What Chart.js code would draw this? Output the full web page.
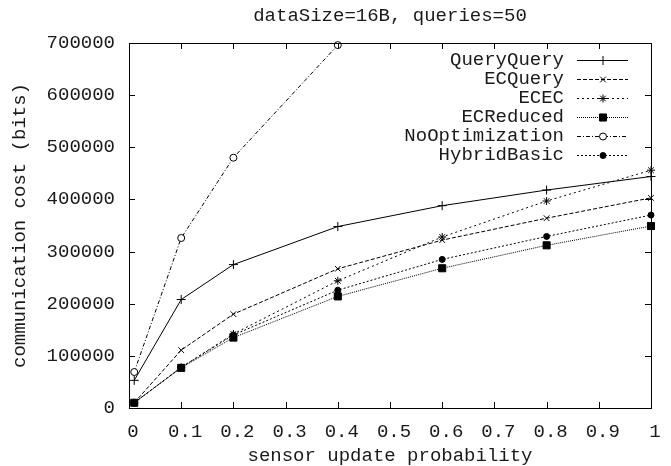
<!DOCTYPE html>
<html>
<head>
<meta charset="utf-8">
<script src="https://cdn.jsdelivr.net/npm/chart.js@4/dist/chart.umd.min.js"></script>
<style>
  html, body { margin: 0; padding: 0; background: #fff; }
  #wrap { width: 671px; height: 466px; }
</style>
</head>
<body>
<div id="wrap"><canvas id="chart"></canvas></div>
<script>
// values
const probs = [0.01, 0.1, 0.2, 0.4, 0.6, 0.8, 1];
const queryQuery = [53000, 208000, 275000, 348000, 388000, 418000, 444000];
const ecQuery = [10000, 111000, 180000, 267000, 322000, 364000, 403000];
const ecEc = [10000, 78000, 142000, 244000, 328000, 397000, 456000];
const ecReduced = [10000, 77000, 135000, 214000, 268000, 312000, 349000];
const noOptimization = [69000, 326000, 480000, 696000];
const hybridBasic = [10000, 78000, 140000, 226000, 285000, 329000, 370000];

const xTicks = [0, 0.1, 0.2, 0.3, 0.4, 0.5, 0.6, 0.7, 0.8, 0.9, 1];
const yTicks = [0, 100000, 200000, 300000, 400000, 500000, 600000, 700000];

const FONT = "'Liberation Mono', 'DejaVu Sans Mono', monospace";
const FSIZE = 19;
const INK = '#1a1a1a';

function pts(vals) {
    return vals.map((v, i) => ({ x: probs[i], y: v }));
}

const series = [
    { label: 'QueryQuery', data: queryQuery, dash: [], style: 'cross', r: 4.5, fill: '#000' },
    { label: 'ECQuery', data: ecQuery, dash: [4, 2], style: 'crossRot', r: 4, fill: '#000' },
    { label: 'ECEC', data: ecEc, dash: [2, 3], style: 'star', r: 4, fill: '#000' },
    { label: 'ECReduced', data: ecReduced, dash: [1, 1], style: 'rect', r: 5, fill: '#000' },
    { label: 'NoOptimization', data: noOptimization, dash: [4, 2, 1, 2], style: 'circle', r: 3.5, fill: '#fff' },
    { label: 'HybridBasic', data: hybridBasic, dash: [2, 2], style: 'circle', r: 3, fill: '#000' }
];

// gnuplot style frame with inward ticks on all four sides
const frame = {
    id: 'frame',
    afterDatasetsDraw(chart) {
        const { ctx, chartArea: a, scales: { x, y } } = chart;
        ctx.save();
        ctx.strokeStyle = '#000';
        ctx.lineWidth = 1;
        ctx.setLineDash([]);
        ctx.beginPath();
        xTicks.forEach(v => {
            const px = Math.round(x.getPixelForValue(v)) + 0.5;
            ctx.moveTo(px, a.bottom); ctx.lineTo(px, a.bottom - 6);
            ctx.moveTo(px, a.top); ctx.lineTo(px, a.top + 6);
        });
        yTicks.forEach(v => {
            const py = Math.round(y.getPixelForValue(v)) + 0.5;
            ctx.moveTo(a.left, py); ctx.lineTo(a.left + 6, py);
            ctx.moveTo(a.right, py); ctx.lineTo(a.right - 6, py);
        });
        ctx.stroke();
        ctx.strokeRect(Math.round(a.left) + 0.5, Math.round(a.top) + 0.5,
            Math.round(a.right - a.left), Math.round(a.bottom - a.top));

        // title
        ctx.fillStyle = INK;
        ctx.font = FSIZE + 'px ' + FONT;
        ctx.textAlign = 'center';
        ctx.textBaseline = 'middle';
        ctx.fillText('dataSize=16B, queries=50', (a.left + a.right) / 2, 16);

        // legend, text on the left of the sample
        ctx.textAlign = 'right';
        chart.data.datasets.forEach((ds, i) => {
            const ly = 60 + i * 19;
            ctx.fillStyle = INK;
            ctx.fillText(ds.label, 564, ly);
            ctx.beginPath();
            ctx.setLineDash(ds.borderDash);
            ctx.moveTo(577, ly + 0.5);
            ctx.lineTo(628, ly + 0.5);
            ctx.stroke();
            ctx.setLineDash([]);
            ctx.fillStyle = ds.pointBackgroundColor;
            Chart.helpers.drawPoint(ctx, {
                pointStyle: ds.pointStyle, radius: ds.pointRadius,
                borderWidth: 1, rotation: 0
            }, 603, ly + 0.5);
        });
        ctx.restore();
    }
};

new Chart(document.getElementById('chart'), {
    type: 'line',
    data: {
        datasets: series.map(s => ({
            label: s.label,
            data: pts(s.data),
            borderColor: '#000',
            borderWidth: 1,
            borderDash: s.dash,
            pointStyle: s.style,
            pointRadius: s.r,
            pointHoverRadius: s.r,
            pointBorderColor: '#000',
            pointBackgroundColor: s.fill,
            pointBorderWidth: 1,
            tension: 0,
            fill: false,
            clip: false
        }))
    },
    options: {
        responsive: true,
        maintainAspectRatio: false,
        animation: false,
        layout: { padding: { top: 43, right: 20, left: 0, bottom: 0 } },
        plugins: {
            legend: { display: false },
            title: { display: false },
            tooltip: { enabled: false }
        },
        scales: {
            x: {
                type: 'linear',
                min: 0,
                max: 1,
                afterBuildTicks: s => { s.ticks = xTicks.map(v => ({ value: v })); },
                afterFit: s => { s.height = 58; },
                grid: { display: false, drawTicks: false },
                border: { display: false },
                ticks: {
                    color: INK,
                    font: { family: FONT, size: FSIZE },
                    padding: 13,
                    labelOffset: 4,
                    maxRotation: 0,
                    autoSkip: false,
                    callback: v => String(Math.round(v * 10) / 10)
                },
                title: {
                    display: true,
                    text: 'sensor update probability',
                    color: INK,
                    font: { family: FONT, size: FSIZE },
                    padding: { top: 0, bottom: -1 }
                }
            },
            y: {
                min: 0,
                max: 700000,
                afterBuildTicks: s => { s.ticks = yTicks.map(v => ({ value: v })); },
                afterFit: s => { s.width = 129; },
                grid: { display: false, drawTicks: false },
                border: { display: false },
                ticks: {
                    color: INK,
                    font: { family: FONT, size: FSIZE },
                    padding: 14,
                    autoSkip: false,
                    callback: v => String(v)
                },
                title: {
                    display: true,
                    text: 'communication cost (bits)',
                    color: INK,
                    font: { family: FONT, size: FSIZE },
                    padding: { top: 9, bottom: 0 }
                }
            }
        }
    },
    plugins: [frame]
});
</script>
</body>
</html>
